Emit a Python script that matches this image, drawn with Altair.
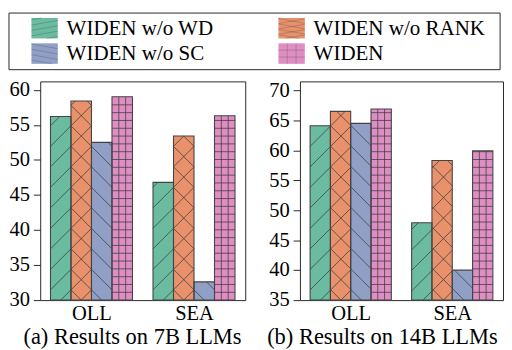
import math
import altair as alt
import pandas as pd

# ---------------- data ----------------
groups = ["OLL", "SEA"]
series = ["WIDEN w/o WD", "WIDEN w/o RANK", "WIDEN w/o SC", "WIDEN"]

b7_wd = [56.2, 46.8]
b7_rank = [58.4, 53.4]
b7_sc = [52.5, 32.6]
b7_widen = [59.0, 56.3]

b14_wd = [64.1, 47.9]
b14_rank = [66.5, 58.3]
b14_sc = [64.5, 40.0]
b14_widen = [66.9, 59.9]

titles = ["(a) Results on 7B LLMs", "(b) Results on 14B LLMs"]

# ---------------- style ----------------
FONT = "Liberation Serif, Times New Roman, DejaVu Serif, serif"
colors = ["#6abb9f", "#e8916b", "#8f9fc6", "#df8ec3"]
hatches = ["/", "x", "\\", "+"]
EDGE = "#444444"
HATCH = "#3c3c3c"
FRAME = "#262626"

PANEL_W = [210, 208]
PANEL_H = 224
XMIN, XMAX = -0.5, 1.5
BAR_W = 0.2


def diag(X0, X1, Y0, Y1, s, sp):
    """Lines y = s*x + c, c = k*sp, clipped to rectangle."""
    segs = []
    cs = [Y0 - s * X0, Y0 - s * X1, Y1 - s * X0, Y1 - s * X1]
    cmin, cmax = min(cs), max(cs)
    for k in range(math.ceil(cmin / sp), math.floor(cmax / sp) + 1):
        c = k * sp
        xa = (Y0 - c) / s
        xb = (Y1 - c) / s
        lo = max(X0, min(xa, xb))
        hi = min(X1, max(xa, xb))
        if hi - lo > 0.6:
            segs.append((lo, s * lo + c, hi, s * hi + c))
    return segs


def grid(X0, X1, Y0, Y1, nx, gh):
    segs = []
    w = (X1 - X0) / nx
    for j in range(1, nx):
        segs.append((X0 + j * w, Y0, X0 + j * w, Y1))
    k = 1
    while Y0 + k * gh < Y1 - 0.8:
        segs.append((X0, Y0 + k * gh, X1, Y0 + k * gh))
        k += 1
    return segs


def hatch_px(kind, X0, X1, Y0, Y1, sp=21.0, s=1.0, nx=3, gh=8.0):
    segs = []
    if kind in ("/", "x"):
        segs += diag(X0, X1, Y0, Y1, s, sp)
    if kind in ("\\", "x"):
        segs += diag(X0, X1, Y0, Y1, -s, sp)
    if kind == "+":
        segs += grid(X0, X1, Y0, Y1, nx, gh)
    return segs


def panel(vals, ymin, ymax, yticks, width, title, title_x):
    sx = width / (XMAX - XMIN)
    sy = PANEL_H / (ymax - ymin)
    rows, hrows = [], []
    for si, name in enumerate(series):
        for gi, g in enumerate(groups):
            xc = gi + (si - 1.5) * BAR_W
            x0, x1 = xc - BAR_W / 2, xc + BAR_W / 2
            v = vals[si][gi]
            rows.append(dict(series=name, group=g, x0=x0, x1=x1, val=v, base=ymin))
            X0, X1 = (x0 - XMIN) * sx, (x1 - XMIN) * sx
            H = (v - ymin) * sy
            for (a, b, c, d) in hatch_px(hatches[si], X0, X1, 0.0, H):
                hrows.append(dict(hx=XMIN + a / sx, hy=ymin + b / sy,
                                  hx2=XMIN + c / sx, hy2=ymin + d / sy))
    df = pd.DataFrame(rows)
    hdf = pd.DataFrame(hrows)

    xs = alt.Scale(domain=[XMIN, XMAX], nice=False, zero=False)
    ys = alt.Scale(domain=[ymin, ymax], nice=False, zero=False)
    label_expr = "[" + ",".join("'" + g + "'" for g in groups) + "][datum.value]"
    xaxis = alt.Axis(values=list(range(len(groups))), labelExpr=label_expr,
                     ticks=False, domain=False, grid=False, labelPadding=3,
                     labelFont=FONT, labelFontSize=21, labelColor="black",
                     title=title, titleFont=FONT, titleFontSize=23,
                     titleFontWeight="normal", titleColor="black",
                     titleX=title_x, titleY=44, titleAlign="center",
                     titleBaseline="alphabetic")
    yaxis = alt.Axis(values=yticks, grid=False, domain=False, tickSize=7,
                     tickColor=FRAME, labelPadding=4, labelFont=FONT,
                     labelFontSize=21, labelColor="black", title=None)
    cscale = alt.Scale(domain=series, range=colors)

    fill = alt.Chart(df).mark_bar(strokeWidth=0).encode(
        x=alt.X("x0:Q", scale=xs, axis=xaxis),
        x2="x1:Q",
        y=alt.Y("val:Q", scale=ys, axis=yaxis),
        y2="base:Q",
        fill=alt.Fill("series:N", scale=cscale, legend=None),
    )
    hatch = alt.Chart(hdf).mark_rule(color=HATCH, strokeWidth=0.9, opacity=0.85).encode(
        x=alt.X("hx:Q", scale=xs, axis=xaxis),
        x2="hx2:Q",
        y=alt.Y("hy:Q", scale=ys, axis=yaxis),
        y2="hy2:Q",
    )
    outline = alt.Chart(df).mark_bar(fillOpacity=0, stroke=EDGE, strokeWidth=1.1).encode(
        x=alt.X("x0:Q", scale=xs, axis=xaxis),
        x2="x1:Q",
        y=alt.Y("val:Q", scale=ys, axis=yaxis),
        y2="base:Q",
    )
    return alt.layer(fill, hatch, outline).properties(
        width=width, height=PANEL_H,
        view=alt.ViewBackground(stroke=FRAME, strokeWidth=1))


pa = panel([b7_wd, b7_rank, b7_sc, b7_widen], 30, 61.2, list(range(30, 61, 5)),
           PANEL_W[0], titles[0], 94)
pb = panel([b14_wd, b14_rank, b14_sc, b14_widen], 35, 71.5, list(range(35, 71, 5)),
           PANEL_W[1], titles[1], 84)

# ---------------- legend (drawn as its own small chart) ----------------
LEG_W, LEG_H = 503, 58
OFF = 32          # width of the y-axis labels + ticks of panel (a)
col_x = [23, 276]
row_y = [5, 31]
SYM_W, SYM_H = 27, 21
LAB_DX = 36

lrows, lh, lt = [], [], []
for i, name in enumerate(series):
    cx, ry = col_x[i % 2], row_y[i // 2]
    lrows.append(dict(series=name, sx0=cx, sx1=cx + SYM_W, sy0=ry, sy1=ry + SYM_H))
    lt.append(dict(label=name, tx=cx + LAB_DX, ty=ry + SYM_H / 2 + 1))
    # shallow hatch inside the legend swatch (y grows downward here)
    for (a, b, c, d) in hatch_px(hatches[i], cx, cx + SYM_W, ry, ry + SYM_H,
                                  sp=5.5, s=-0.18, nx=3, gh=SYM_H / 3):
        lh.append(dict(hx=a, hy=b, hx2=c, hy2=d))
ldf, lhdf, ltdf = pd.DataFrame(lrows), pd.DataFrame(lh), pd.DataFrame(lt)
boxdf = pd.DataFrame([dict(bx0=0, bx1=LEG_W, by0=0, by1=LEG_H)])

lxs = alt.Scale(domain=[OFF, LEG_W], nice=False, zero=False)
lys = alt.Scale(domain=[0, LEG_H], nice=False, zero=False, reverse=True)

leg_box = alt.Chart(boxdf).mark_rect(fillOpacity=0, stroke=FRAME, strokeWidth=1).encode(
    x=alt.X("bx0:Q", scale=lxs, axis=None), x2="bx1:Q",
    y=alt.Y("by0:Q", scale=lys, axis=None), y2="by1:Q",
)
leg_sym = alt.Chart(ldf).mark_rect().encode(
    x=alt.X("sx0:Q", scale=lxs, axis=None), x2="sx1:Q",
    y=alt.Y("sy0:Q", scale=lys, axis=None), y2="sy1:Q",
    fill=alt.Fill("series:N", scale=alt.Scale(domain=series, range=colors), legend=None),
)
leg_hatch = alt.Chart(lhdf).mark_rule(color=HATCH, strokeWidth=0.6, opacity=0.45).encode(
    x=alt.X("hx:Q", scale=lxs, axis=None), x2="hx2:Q",
    y=alt.Y("hy:Q", scale=lys, axis=None), y2="hy2:Q",
)
leg_text = alt.Chart(ltdf).mark_text(align="left", baseline="middle", font=FONT,
                                     fontSize=21.5, color="black").encode(
    x=alt.X("tx:Q", scale=lxs, axis=None),
    y=alt.Y("ty:Q", scale=lys, axis=None),
    text="label:N",
)
legend = alt.layer(leg_box, leg_sym, leg_hatch, leg_text).properties(
    width=LEG_W - OFF, height=LEG_H,
    view=alt.ViewBackground(stroke="transparent"))

chart = alt.vconcat(
    legend,
    alt.hconcat(pa, pb, spacing=20),
    spacing=8,
).properties(padding=0)

chart.save("out.html", embed_options={"renderer": "svg", "actions": False})
